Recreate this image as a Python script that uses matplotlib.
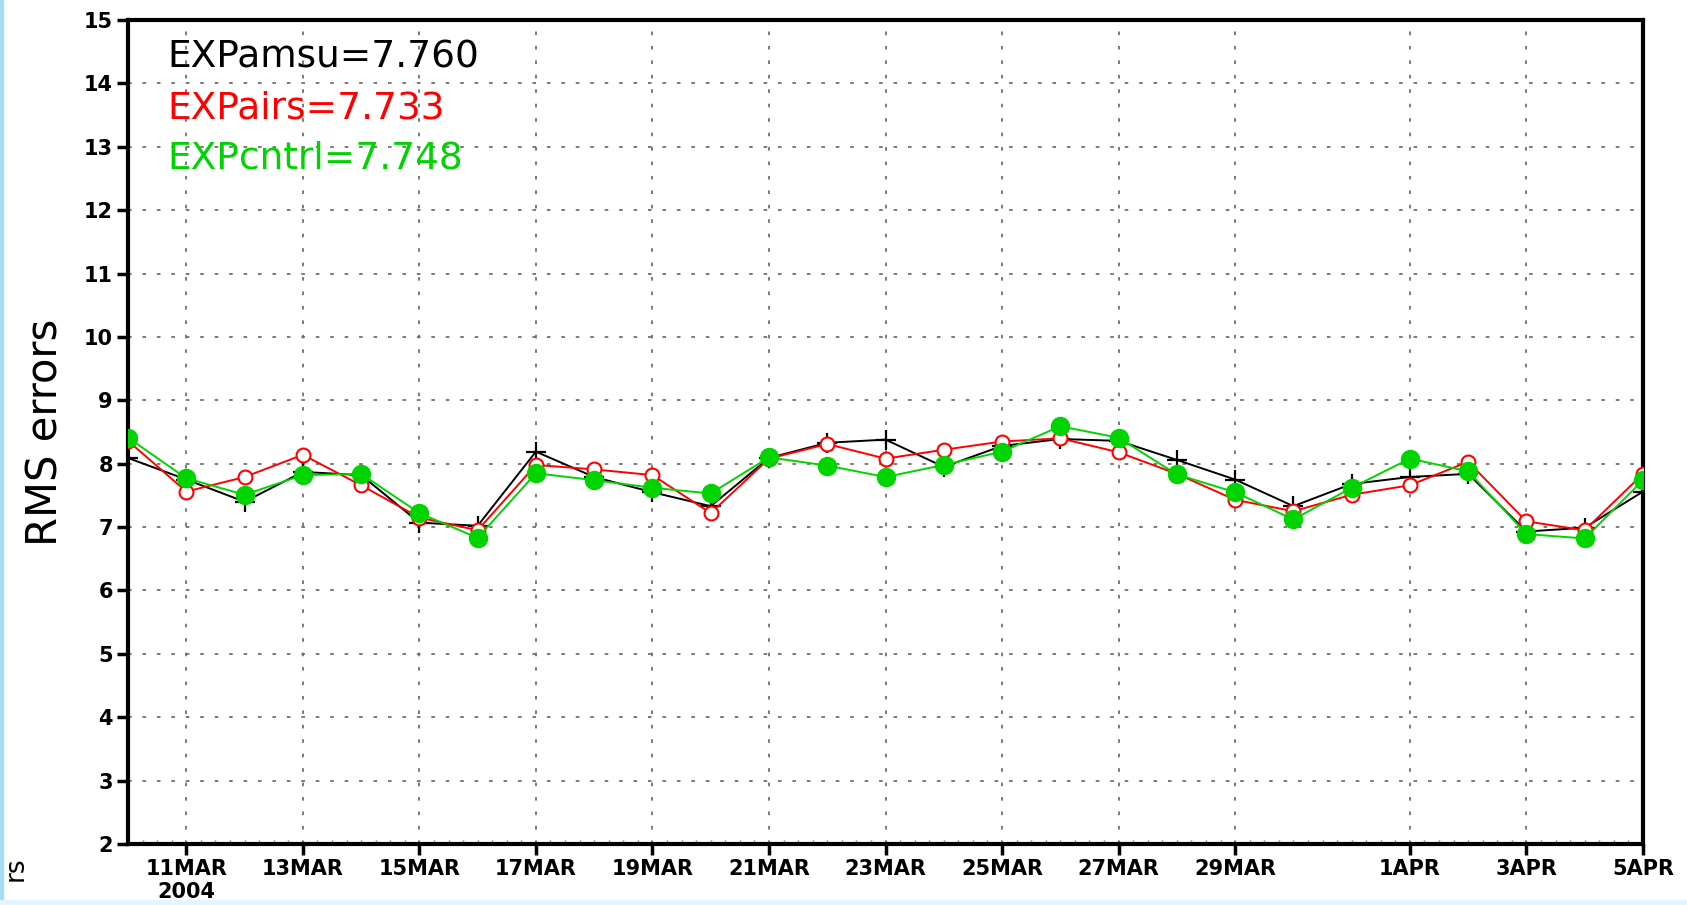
#!/usr/bin/env python3

import datetime as dt
import matplotlib
matplotlib.use("Agg")
import matplotlib.dates as mdates
from matplotlib import pyplot as plt


# daily dates, 10MAR2004 .. 5APR2004
start = dt.datetime(2004, 3, 10)
dates = [start + dt.timedelta(days=i) for i in range(27)]

amsu = [8.09, 7.75, 7.40, 7.87, 7.82, 7.07, 7.02, 8.19, 7.79, 7.55, 7.33, 8.09, 8.33, 8.38,
        7.95, 8.28, 8.39, 8.36, 8.06, 7.75, 7.33, 7.68, 7.79, 7.84, 6.93, 6.99, 7.56]
airs = [8.36, 7.56, 7.79, 8.14, 7.66, 7.15, 6.95, 7.98, 7.91, 7.82, 7.22, 8.08, 8.31, 8.08,
        8.22, 8.35, 8.40, 8.18, 7.84, 7.43, 7.25, 7.51, 7.66, 8.03, 7.09, 6.95, 7.84]
cntrl = [8.41, 7.77, 7.51, 7.82, 7.84, 7.22, 6.83, 7.85, 7.74, 7.62, 7.53, 8.10, 7.97, 7.79,
         7.98, 8.19, 8.59, 8.41, 7.83, 7.55, 7.12, 7.62, 8.08, 7.88, 6.89, 6.82, 7.74]

legend_text = ["EXPamsu=7.760", "EXPairs=7.733", "EXPcntrl=7.748"]

# labelled ticks
tick_dates = [dt.datetime(2004, 3, d) for d in (11, 13, 15, 17, 19, 21, 23, 25, 27, 29)] + \
             [dt.datetime(2004, 4, d) for d in (1, 3, 5)]
tick_labels = ["11MAR\n2004", "13MAR", "15MAR", "17MAR", "19MAR", "21MAR", "23MAR", "25MAR",
               "27MAR", "29MAR", "1APR", "3APR", "5APR"]

GREEN = "#00d400"
RED = "#ff0000"

fig = plt.figure(figsize=(16.87, 9.05), dpi=100)
ax = fig.add_axes([0.0759, 0.0674, 0.898, 0.9105])

ax.plot(dates, amsu, color="black", lw=1.4, marker="+", ms=15, mew=1.6, zorder=3)
ax.plot(dates, airs, color=RED, lw=1.4, marker="o", ms=10, mfc="white", mec=RED, mew=1.5, zorder=4)
ax.plot(dates, cntrl, color=GREEN, lw=1.4, marker="o", ms=13, mfc=GREEN, mec=GREEN, zorder=5)

ax.set_xlim(dates[0], dates[-1])
ax.set_ylim(2, 15)
ax.set_yticks(range(2, 16))
ax.set_xticks(tick_dates)
ax.set_xticklabels(tick_labels)
ax.xaxis.set_minor_locator(mdates.HourLocator(byhour=[0, 6, 12, 18]))

ax.grid(True, which="major", color="#707070", linestyle=(0, (2, 6)), lw=1.3)
ax.tick_params(axis="both", which="major", direction="out", length=8, width=2.5,
               labelsize=15, pad=3)
ax.tick_params(axis="x", which="minor", direction="in", length=3, width=1, color="#808080")
for lbl in ax.get_xticklabels() + ax.get_yticklabels():
    lbl.set_fontweight("bold")
for sp in ax.spines.values():
    sp.set_linewidth(3)

ax.set_ylabel("RMS errors", fontsize=30, labelpad=12)

colors = ["black", RED, GREEN]
ypos = [0.955, 0.893, 0.832]
for txt, c, y in zip(legend_text, colors, ypos):
    ax.text(0.026, y, txt, color=c, fontsize=27, transform=ax.transAxes, va="center", ha="left")

# clipped label remnant in the corner
fig.text(0.009, 0.04, "rs", rotation=90, fontsize=19, va="center", ha="center")

# light blue frame on the left and bottom
fig.patches.append(plt.Rectangle((0, 0), 0.002, 1, transform=fig.transFigure,
                                 color="#a6dcf5", zorder=10))
fig.patches.append(plt.Rectangle((0, 0), 1, 0.006, transform=fig.transFigure,
                                 color="#e3f5fd", zorder=10))

fig.savefig("out.png", dpi=100)
